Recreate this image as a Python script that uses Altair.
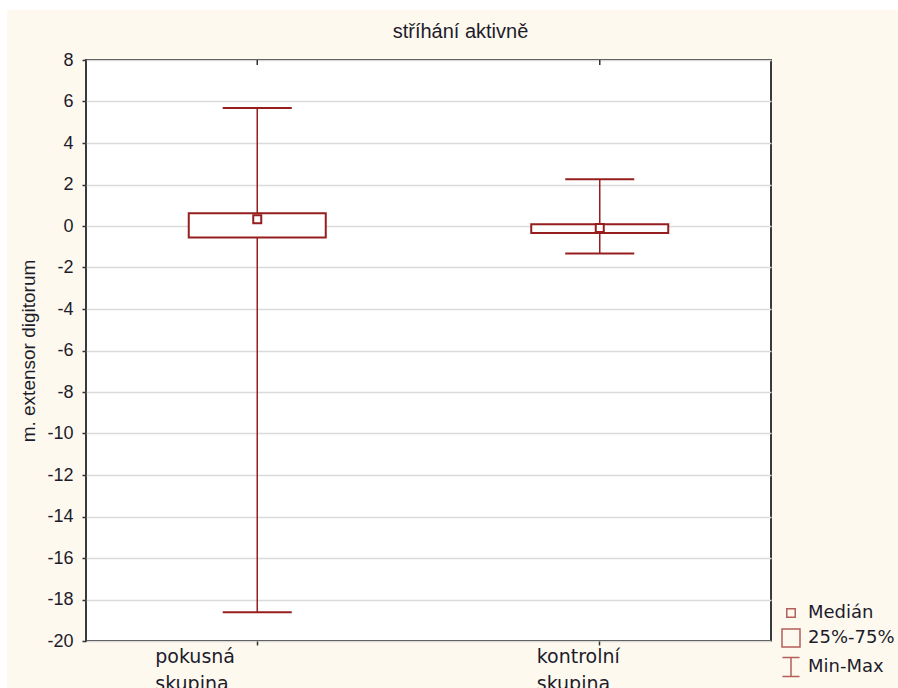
import altair as alt
import pandas as pd

# ---- data ----
categories = ["pokusná skupina", "kontrolní skupina"]
minimum = [-18.62, -1.32]
q1 = [-0.55, -0.34]
median = [0.32, -0.10]
q3 = [0.62, 0.08]
maximum = [5.69, 2.25]

legend_items = ["Medián", "25%-75%", "Min-Max"]
y_ticks = list(range(-20, 9, 2))

DR = "#971E1E"
TXT = "#1c1c2c"
BG = "#FEF9EE"

df = pd.DataFrame({
    "group": categories,
    "min": minimum,
    "q1": q1,
    "median": median,
    "q3": q3,
    "max": maximum,
})

x_enc = alt.X(
    "group:N",
    sort=categories,
    title=None,
    scale=alt.Scale(paddingInner=0, paddingOuter=0),
    axis=alt.Axis(
        labelAngle=0,
        labelAlign="left",
        labelBaseline="top",
        labelExpr="split(datum.label, ' ')",
        labelOffset={"condition": {"test": "datum.value === 'pokusná skupina'", "value": -102}, "value": -63},
        labelFont="DejaVu Sans",
        labelFontSize=19,
        labelColor=TXT,
        labelLineHeight=27,
        labelPadding=2,
        tickSize=4,
        tickColor="#333333",
        tickWidth=1.5,
        domain=False,
        grid=False,
    ),
)

y_scale = alt.Scale(domain=[-20, 8], nice=False, zero=False)
y_axis = alt.Axis(
    values=y_ticks,
    labelExpr="datum.value < 0 ? '-' + abs(datum.value) : '' + datum.value",
    title="m. extensor digitorum",
    titleFont="Liberation Sans",
    titleFontSize=19,
    titleFontWeight="normal",
    titleColor=TXT,
    titlePadding=8,
    labelFont="Liberation Sans",
    labelFontSize=18,
    labelColor=TXT,
    labelPadding=9,
    tickSize=4,
    tickColor="#333333",
    tickWidth=1.5,
    domain=False,
    grid=True,
    gridColor="#DADADA",
    gridWidth=1.5,
)

base = alt.Chart(df).encode(x=x_enc)

whisker = base.mark_rule(color=DR, strokeWidth=1.5).encode(
    y=alt.Y("min:Q", scale=y_scale, axis=y_axis),
    y2="max:Q",
)
cap_lo = base.mark_tick(color=DR, size=69, thickness=2, opacity=1).encode(
    y=alt.Y("min:Q", scale=y_scale))
cap_hi = base.mark_tick(color=DR, size=69, thickness=2, opacity=1).encode(
    y=alt.Y("max:Q", scale=y_scale))
box = base.mark_bar(fill="white", stroke=DR, strokeWidth=2, size=137, opacity=1).encode(
    y=alt.Y("q1:Q", scale=y_scale),
    y2="q3:Q",
)
med = base.mark_square(fill="white", stroke=DR, strokeWidth=2, size=64, opacity=1).encode(
    y=alt.Y("median:Q", scale=y_scale),
)
# small inward ticks on the top edge of the frame, at each category
top_ticks = base.mark_rule(color="#333333", strokeWidth=1.5).encode(
    y=alt.value(0), y2=alt.value(5)
)

# legend built through a shape scale (no visible marks: y is null)
leg_df = pd.DataFrame({"item": legend_items, "group": [categories[0]] * 3, "v": [None] * 3})
legend_layer = alt.Chart(leg_df).mark_point(filled=False, color=DR, strokeWidth=1.5).encode(
    x=alt.X("group:N", sort=categories),
    y=alt.Y("v:Q", scale=y_scale),
    shape=alt.Shape(
        "item:N",
        scale=alt.Scale(
            domain=legend_items,
            range=[
                "M-0.47,-0.47H0.47V0.47H-0.47Z",
                "M-1,-1H1V1H-1Z",
                "M-0.95,-1.05H0.95M0,-1.05V1.05M-0.95,1.05H0.95",
            ],
        ),
        legend=alt.Legend(
            title=None,
            orient="none",
            legendX=695,
            legendY=543,
            padding=0,
            symbolSize=324,
            symbolStrokeWidth=1.5,
            symbolStrokeColor=DR,
            symbolFillColor="transparent",
            labelFont="DejaVu Sans",
            labelFontSize=18,
            labelColor=TXT,
            labelOffset=7,
            rowPadding=4,
        ),
    ),
)

# white page strips outside the cream frame (decoration)
strip_df = pd.DataFrame({"k": [0]})
strip_top = alt.Chart(strip_df).mark_rect(fill="white").encode(
    x=alt.value(-86), x2=alt.value(812), y=alt.value(-60), y2=alt.value(-50)
)
strip_left = alt.Chart(strip_df).mark_rect(fill="white").encode(
    x=alt.value(-86), x2=alt.value(-79), y=alt.value(-60), y2=alt.value(628)
)

chart = alt.layer(
    strip_top, strip_left, whisker, cap_lo, cap_hi, box, med, top_ticks, legend_layer
).properties(
    width=685,
    height=581,
    padding={"left": 86, "top": 60, "right": 127, "bottom": 47},
    autosize="none",
    background=BG,
    title=alt.TitleParams(
        "stříhání aktivně",
        font="Liberation Sans",
        fontSize=20,
        fontWeight="normal",
        color=TXT,
        anchor="middle",
        frame="group",
        dx=32,
        baseline="alphabetic",
        offset=-58,
    ),
).configure_view(
    fill="white",
    stroke="#3a3a3a",
    strokeWidth=2,
)

chart.save("out.html", embed_options={"renderer": "svg", "actions": False})
